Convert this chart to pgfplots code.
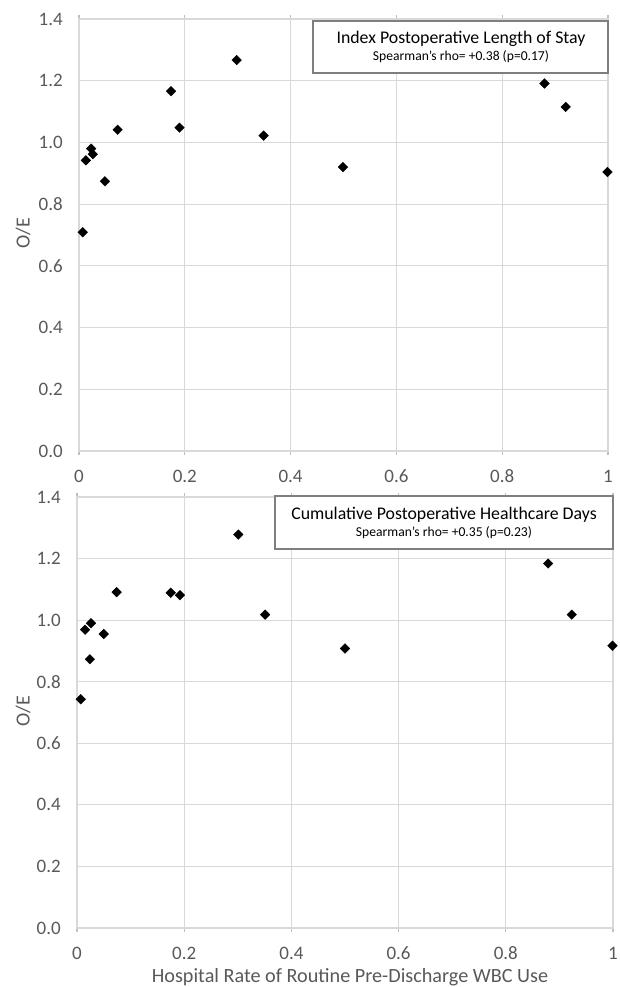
\documentclass[border=0pt]{standalone}
\usepackage{pgfplots}
\pgfplotsset{compat=1.18}
\usepackage{fontspec}
\setmainfont{Carlito}
\definecolor{tickgray}{HTML}{595959}
\definecolor{gridgray}{HTML}{D9D9D9}
\definecolor{axisgray}{HTML}{BFBFBF}
\definecolor{boxgray}{HTML}{7F7F7F}

\pgfplotsset{
  oeaxis/.style={
    scale only axis,
    anchor=north west,
    xmin=0, xmax=1,
    ymin=0, ymax=1.4,
    xtick={0,0.2,0.4,0.6,0.8,1},
    ytick={0,0.2,0.4,0.6,0.8,1.0,1.2,1.4},
    xticklabels={0,0.2,0.4,0.6,0.8,1},
    yticklabel style={/pgf/number format/fixed, /pgf/number format/fixed zerofill,
      /pgf/number format/precision=1},
    /pgf/number format/assume math mode=true,
    grid=major,
    major grid style={draw=gridgray, line width=1.2pt},
    axis line style={draw=gridgray, line width=1.2pt},
    xtick align=outside,
    major tick length=4pt,
    xtick style={draw=axisgray, line width=1.2pt},
    ytick style={draw=none},
    ticklabel style={font=\fontsize{19}{22}\selectfont, text=tickgray},
    yticklabel style={anchor=east, inner sep=0pt, xshift=-16pt},
    xticklabel style={anchor=center, inner sep=0pt, yshift=-21pt},
    clip=false,
  },
  oemarks/.style={only marks, mark=square*, mark size=3.4pt,
    mark options={rotate=45, fill=black, draw=black}},
}

\begin{document}
\begin{tikzpicture}
\useasboundingbox (0,0) rectangle (619pt,-987pt);

% top panel: index postoperative length of stay
\begin{axis}[oeaxis, at={(79pt,-19pt)}, width=529pt, height=432pt]
\addplot[oemarks] coordinates {
  (0.007,0.709) (0.013,0.942) (0.023,0.980) (0.026,0.962) (0.049,0.874)
  (0.073,1.041) (0.174,1.166) (0.190,1.048) (0.298,1.267) (0.349,1.022)
  (0.499,0.920) (0.880,1.191) (0.920,1.115) (0.999,0.904)
};
\end{axis}

% bottom panel: cumulative postoperative healthcare days
\begin{axis}[oeaxis, at={(77pt,-497pt)}, width=536pt, height=431pt]
\addplot[oemarks] coordinates {
  (0.007,0.743) (0.015,0.969) (0.026,0.990) (0.024,0.873) (0.050,0.955)
  (0.074,1.091) (0.175,1.089) (0.192,1.081) (0.301,1.278) (0.351,1.018)
  (0.500,0.908) (0.879,1.184) (0.923,1.018) (0.999,0.917)
};
\end{axis}

% boxes with panel titles
\draw[boxgray, line width=1.3pt, fill=white] (313pt,-21pt) rectangle (608pt,-73pt);
\node[font=\fontsize{17.8}{20}\selectfont] at (461pt,-39pt) {Index Postoperative Length of Stay};
\node[font=\fontsize{13.6}{15}\selectfont] at (461pt,-57pt) {Spearman’s rho= +0.38 (p=0.17)};

\draw[boxgray, line width=1.3pt, fill=white] (275pt,-496pt) rectangle (613pt,-549pt);
\node[font=\fontsize{17.8}{20}\selectfont] at (444pt,-515pt) {Cumulative Postoperative Healthcare Days};
\node[font=\fontsize{13.6}{15}\selectfont] at (444pt,-533pt) {Spearman’s rho= +0.35 (p=0.23)};

% axis labels
\node[rotate=90, text=tickgray, font=\fontsize{20}{22}\selectfont] at (23pt,-233pt) {O/E};
\node[rotate=90, text=tickgray, font=\fontsize{20}{22}\selectfont] at (23pt,-711pt) {O/E};
\node[text=tickgray, font=\fontsize{20.2}{22}\selectfont] at (350pt,-977pt) {Hospital Rate of Routine Pre-Discharge WBC Use};
\end{tikzpicture}
\end{document}
